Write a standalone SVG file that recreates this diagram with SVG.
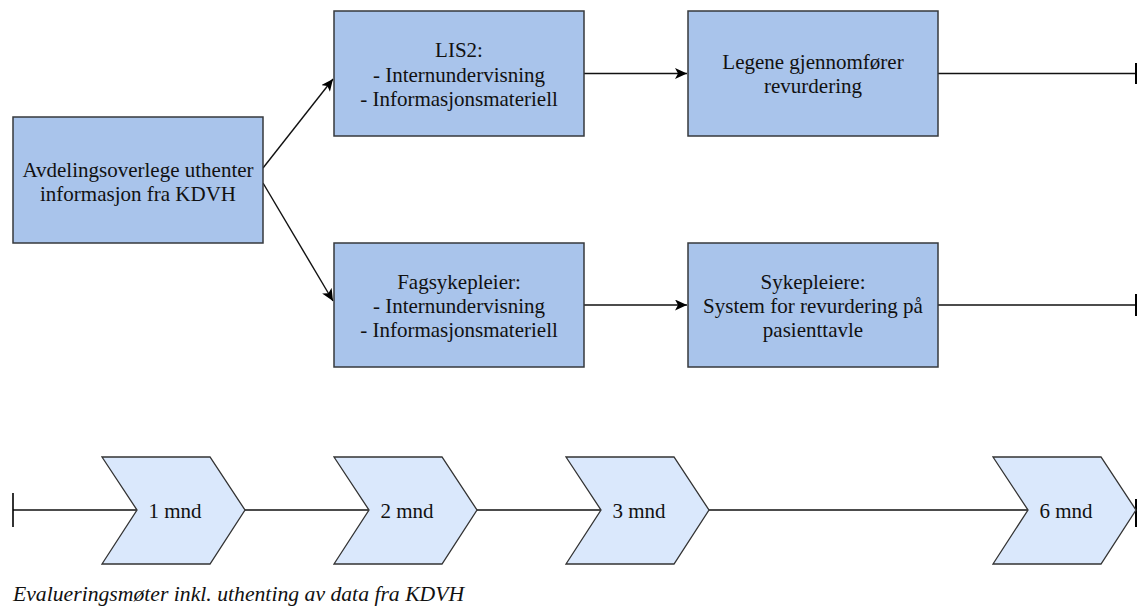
<svg xmlns="http://www.w3.org/2000/svg" width="1137" height="611" viewBox="0 0 1137 611">
<defs>
<style>
.box{fill:#A9C4EB;stroke:#36393D;stroke-width:1.5}
.chev{fill:#DAE8FC;stroke:#333333;stroke-width:1.3}
.t{font-size:21px;fill:#111111;text-anchor:middle}
.cap{font-size:21.7px;font-style:italic;fill:#111111}
.ln{stroke:#111111;stroke-width:1.4;fill:none}
</style>
<marker id="arr" markerWidth="13" markerHeight="11" refX="12" refY="5.5" orient="auto" markerUnits="userSpaceOnUse">
<path d="M0,0 L12,5.5 L0,11 L3,5.5 Z" fill="#000"/>
</marker>
</defs>
<rect width="1137" height="611" fill="#ffffff"/>
<g id="connectors">
<line class="ln" x1="263" y1="168" x2="333" y2="79" marker-end="url(#arr)"/>
<line class="ln" x1="263" y1="183" x2="333" y2="301" marker-end="url(#arr)"/>
<line class="ln" x1="584" y1="73.5" x2="687" y2="73.5" marker-end="url(#arr)"/>
<line class="ln" x1="584" y1="305" x2="687" y2="305" marker-end="url(#arr)"/>
<line class="ln" x1="938" y1="73.5" x2="1136" y2="73.5"/>
<line x1="1136" y1="63" x2="1136" y2="84" stroke="#000" stroke-width="2"/>
<line class="ln" x1="938" y1="305" x2="1136" y2="305"/>
<line x1="1136" y1="294" x2="1136" y2="316" stroke="#000" stroke-width="2"/>
<line class="ln" x1="13" y1="510" x2="1136" y2="510"/>
<line x1="13" y1="493" x2="13" y2="527" stroke="#000" stroke-width="1.6"/>
<line x1="1136" y1="499" x2="1136" y2="527" stroke="#000" stroke-width="2"/>
</g>
<g font-family="Liberation Serif, Times New Roman, Times, serif">
<g id="node-avdeling">
<rect class="box" x="13" y="117" width="250" height="126"/>
<text class="t" x="138" y="177">Avdelingsoverlege uthenter</text>
<text class="t" x="138" y="201">informasjon fra KDVH</text>
</g>
<g id="node-lis2">
<rect class="box" x="334" y="11" width="250" height="125"/>
<text class="t" x="459" y="57">LIS2:</text>
<text class="t" x="459" y="82">- Internundervisning</text>
<text class="t" x="459" y="106">- Informasjonsmateriell</text>
</g>
<g id="node-legene">
<rect class="box" x="688" y="11" width="250" height="125"/>
<text class="t" x="813" y="69">Legene gjennomfører</text>
<text class="t" x="813" y="93">revurdering</text>
</g>
<g id="node-fagsykepleier">
<rect class="box" x="334" y="243" width="250" height="124"/>
<text class="t" x="459" y="289">Fagsykepleier:</text>
<text class="t" x="459" y="313">- Internundervisning</text>
<text class="t" x="459" y="337">- Informasjonsmateriell</text>
</g>
<g id="node-sykepleiere">
<rect class="box" x="688" y="243" width="250" height="124"/>
<text class="t" x="813" y="289">Sykepleiere:</text>
<text class="t" x="813" y="313">System for revurdering på</text>
<text class="t" x="813" y="337">pasienttavle</text>
</g>
<g id="node-1mnd">
<polygon class="chev" points="102,457 210,457 245,510 210,564 102,564 137,510"/>
<text class="t" x="175" y="518">1 mnd</text>
</g>
<g id="node-2mnd">
<polygon class="chev" points="334,457 442,457 477,510 442,564 334,564 369,510"/>
<text class="t" x="407" y="518">2 mnd</text>
</g>
<g id="node-3mnd">
<polygon class="chev" points="566,457 674,457 709,510 674,564 566,564 601,510"/>
<text class="t" x="639" y="518">3 mnd</text>
</g>
<g id="node-6mnd">
<polygon class="chev" points="993,457 1101,457 1136,510 1101,564 993,564 1028,510"/>
<text class="t" x="1066" y="518">6 mnd</text>
</g>
<g id="caption">
<text class="cap" x="13" y="601">Evalueringsmøter inkl. uthenting av data fra KDVH</text>
</g>
</g>
</svg>
